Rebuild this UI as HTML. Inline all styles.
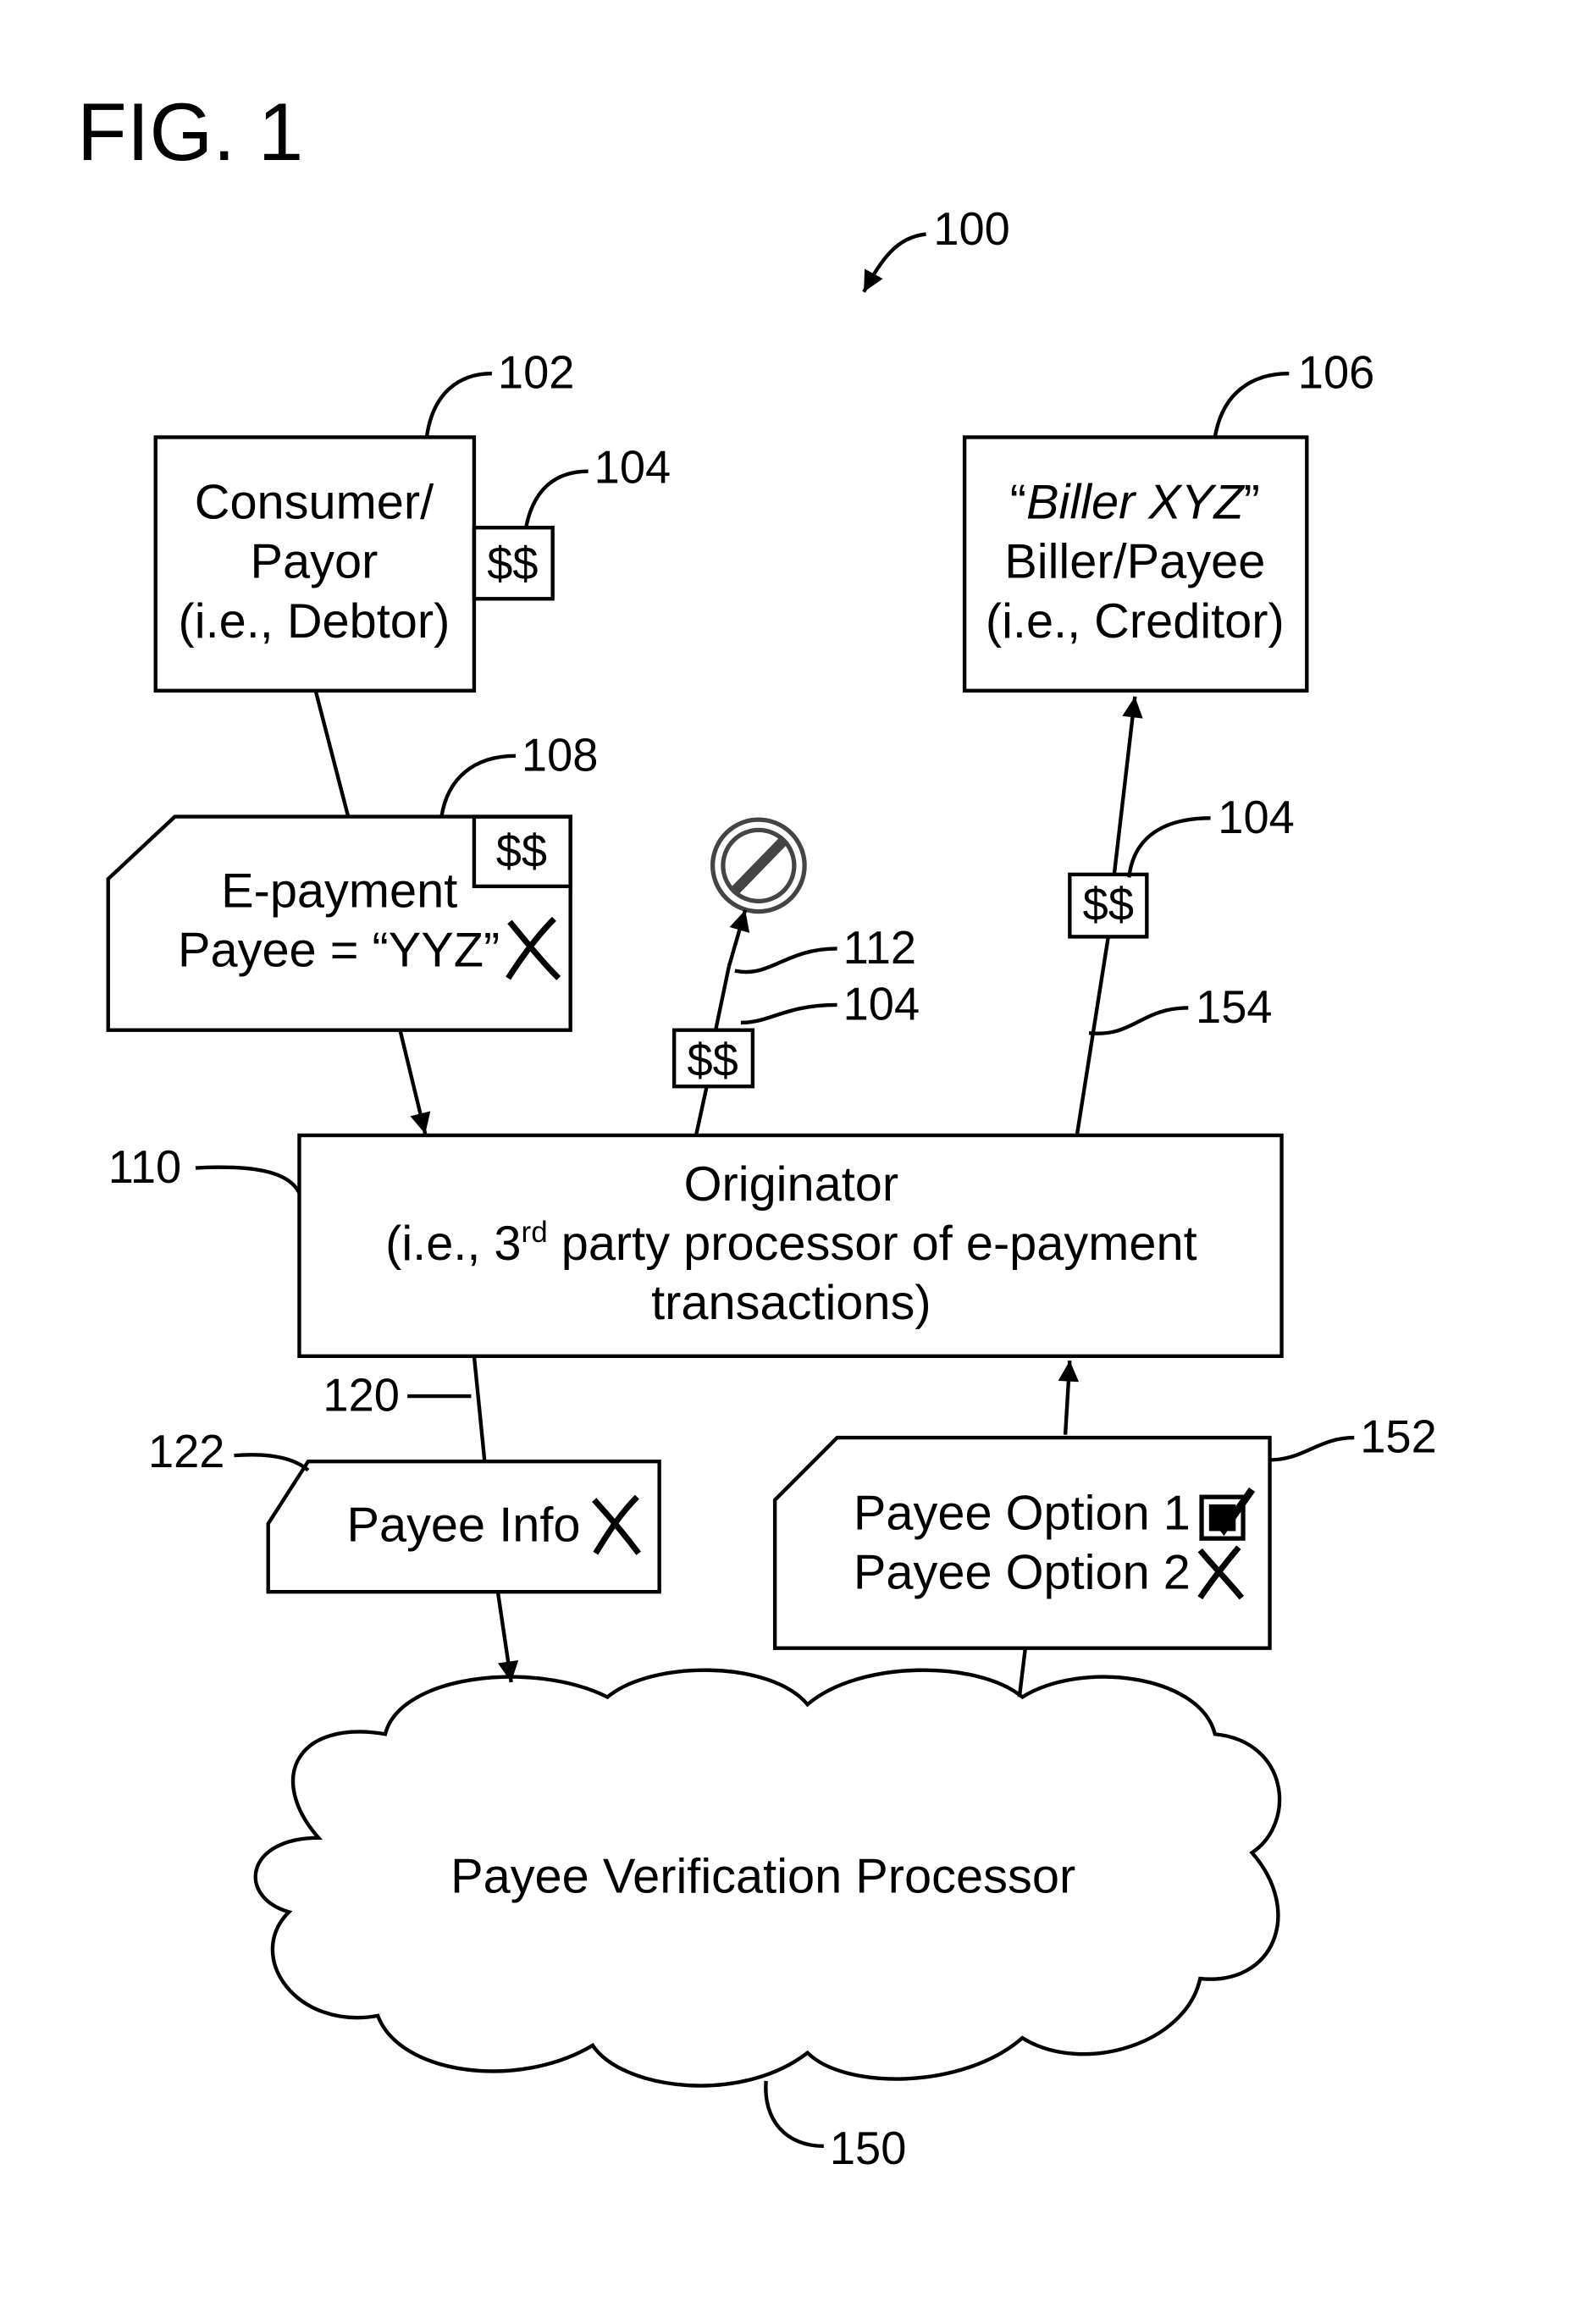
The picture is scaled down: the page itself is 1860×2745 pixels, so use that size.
<!DOCTYPE html>
<html><head><meta charset="utf-8"><style>html,body{margin:0;padding:0;background:#fff}svg{display:block}</style></head>
<body>
<svg width="1860" height="2745" viewBox="0 0 1063 1568" preserveAspectRatio="none" xmlns="http://www.w3.org/2000/svg" font-family="Liberation Sans, Arial, sans-serif">
<defs>
<marker id="a2" viewBox="0 0 10 10" markerWidth="16" markerHeight="14" refX="10" refY="5" orient="auto" markerUnits="userSpaceOnUse">
<path d="M0,0 L10,5 L0,10 Z" fill="#000"/>
</marker>
</defs>
<g fill="none" stroke="#000" stroke-width="2.5">
<text x="52" y="108" font-size="55" fill="#000" stroke="none">FIG. 1</text>
<path d="M625,158 C605,160 595,175 583,197" marker-end="url(#a2)"/>
<text x="630" y="165" font-size="31" fill="#000" stroke="none">100</text>
<rect x="105" y="295" width="215" height="171"/>
<g font-size="33" fill="#000" stroke="none" text-anchor="middle">
<text x="212" y="350">Consumer/</text><text x="212" y="390">Payor</text><text x="212" y="430">(i.e., Debtor)</text>
</g>
<path d="M288,295 C292,265 310,252 332,252"/>
<text x="336" y="262" font-size="31" fill="#000" stroke="none">102</text>
<rect x="320" y="356" width="53" height="48"/>
<text x="346" y="391" font-size="31" fill="#000" stroke="none" text-anchor="middle">$$</text>
<path d="M355,356 C360,330 375,318 397,318"/>
<text x="401" y="326" font-size="31" fill="#000" stroke="none">104</text>
<rect x="651" y="295" width="231" height="171"/>
<g font-size="33" fill="#000" stroke="none" text-anchor="middle">
<text x="766" y="350">“<tspan font-style="italic">Biller XYZ</tspan>”</text><text x="766" y="390">Biller/Payee</text><text x="766" y="430">(i.e., Creditor)</text>
</g>
<path d="M820,295 C825,265 845,252 870,252"/>
<text x="876" y="262" font-size="31" fill="#000" stroke="none">106</text>
<path d="M213,466 L235,551"/>
<path d="M73,593 L118,551 L385,551 L385,695 L73,695 Z"/>
<rect x="320" y="551" width="65" height="47"/>
<text x="352" y="585" font-size="31" fill="#000" stroke="none" text-anchor="middle">$$</text>
<text x="229" y="612" font-size="33" fill="#000" stroke="none" text-anchor="middle">E-payment</text>
<text x="120" y="652" font-size="33" fill="#000" stroke="none">Payee = “YYZ”</text>
<path d="M344,622 C355,635 365,648 377,660 M374,620 C362,632 352,646 343,660" stroke-width="4"/>
<path d="M298,551 C302,525 320,510 348,510"/>
<text x="352" y="520" font-size="31" fill="#000" stroke="none">108</text>
<path d="M270,695 L287,765" marker-end="url(#a2)"/>
<circle cx="512" cy="584" r="31" stroke="#444" stroke-width="3"/>
<circle cx="512" cy="584" r="24" stroke="#444" stroke-width="3"/>
<path d="M495,602 L530,566" stroke="#444" stroke-width="7"/>
<path d="M470,765 L477,733 M483,695 L492,652"/>
<path d="M492,652 L503,614" marker-end="url(#a2)"/>
<rect x="455" y="695" width="53" height="38"/>
<text x="481" y="726" font-size="31" fill="#000" stroke="none" text-anchor="middle">$$</text>
<path d="M496,655 C520,660 530,640 565,640"/>
<text x="569" y="650" font-size="31" fill="#000" stroke="none">112</text>
<path d="M500,690 C520,690 530,678 565,678"/>
<text x="569" y="688" font-size="31" fill="#000" stroke="none">104</text>
<path d="M727,765 L748,632 M752,590 L766,470" marker-end="url(#a2)"/>
<rect x="722" y="590" width="52" height="42"/>
<text x="748" y="621" font-size="31" fill="#000" stroke="none" text-anchor="middle">$$</text>
<path d="M762,592 C765,565 785,552 817,552"/>
<text x="822" y="562" font-size="31" fill="#000" stroke="none">104</text>
<path d="M735,697 C765,700 770,680 802,680"/>
<text x="807" y="690" font-size="31" fill="#000" stroke="none">154</text>
<rect x="202" y="766" width="663" height="149"/>
<g font-size="33" fill="#000" stroke="none" text-anchor="middle">
<text x="534" y="810">Originator</text>
<text x="534" y="850">(i.e., 3<tspan font-size="20" dy="-12">rd</tspan><tspan dy="12"> party processor of e-payment</tspan></text>
<text x="534" y="890">transactions)</text>
</g>
<text x="73" y="798" font-size="31" fill="#000" stroke="none">110</text>
<path d="M132,788 C170,786 195,790 202,805"/>
<path d="M320,915 L327,985"/>
<text x="218" y="952" font-size="31" fill="#000" stroke="none">120</text>
<path d="M275,942 L318,942"/>
<path d="M181,1028 L208,986 L445,986 L445,1074 L181,1074 Z"/>
<text x="234" y="1040" font-size="33" fill="#000" stroke="none">Payee Info</text>
<path d="M401,1012 C412,1024 422,1036 431,1048 M430,1010 C418,1022 410,1035 402,1048" stroke-width="4"/>
<text x="100" y="990" font-size="31" fill="#000" stroke="none">122</text>
<path d="M158,982 C185,980 200,985 208,992"/>
<path d="M336,1074 L345,1135" marker-end="url(#a2)"/>
<path d="M523,1012 L565,970 L857,970 L857,1112 L523,1112 Z"/>
<text x="576" y="1032" font-size="33" fill="#000" stroke="none">Payee Option 1</text>
<text x="576" y="1072" font-size="33" fill="#000" stroke="none">Payee Option 2</text>
<rect x="811" y="1010" width="28" height="28" stroke-width="3"/>
<rect x="816" y="1015" width="18" height="18" fill="#000" stroke="none"/>
<path d="M818,1022 L826,1032 L845,1005" stroke-width="5"/>
<path d="M810,1046 C820,1058 830,1068 838,1078 M836,1044 C826,1056 818,1066 810,1078" stroke-width="4"/>
<path d="M857,985 C880,985 890,970 914,970"/>
<text x="918" y="980" font-size="31" fill="#000" stroke="none">152</text>
<path d="M688,1145 L692,1112"/>
<path d="M719,968 L722,918" marker-end="url(#a2)"/>
<path d="M215,1240 C180,1200 200,1160 260,1170 C270,1130 360,1120 410,1145 C440,1120 520,1120 545,1150 C580,1120 660,1120 690,1145 C730,1120 810,1130 820,1170 C870,1175 875,1230 845,1250 C880,1290 860,1340 810,1335 C800,1380 730,1400 690,1375 C650,1410 570,1410 545,1385 C500,1420 420,1410 400,1380 C350,1410 270,1400 255,1360 C200,1370 165,1320 195,1290 C160,1280 165,1240 215,1240 Z"/>
<text x="515" y="1277" font-size="33" fill="#000" stroke="none" text-anchor="middle">Payee Verification Processor</text>
<path d="M517,1404 C515,1430 530,1448 556,1448"/>
<text x="560" y="1460" font-size="31" fill="#000" stroke="none">150</text>
</g>
</svg>
</body></html>
